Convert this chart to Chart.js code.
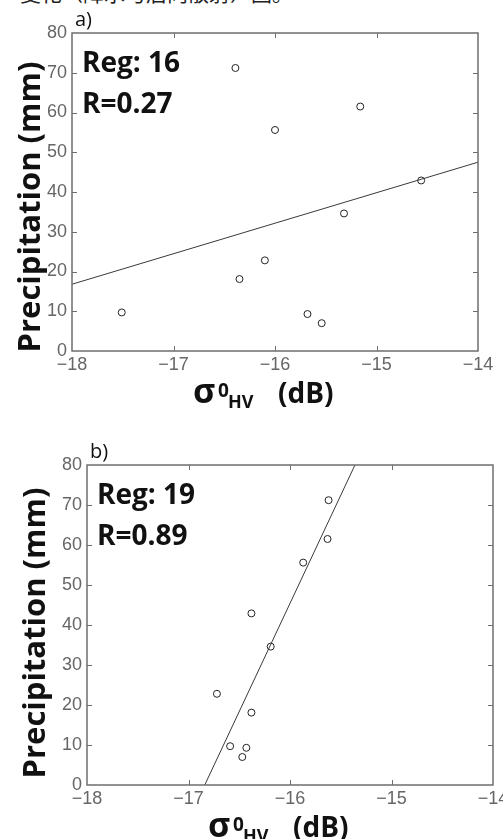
<!DOCTYPE html>
<html>
<head>
<meta charset="utf-8">
<script src="https://cdn.jsdelivr.net/npm/chart.js@4/dist/chart.umd.min.js"></script>
<style>
    html, body {
        margin: 0;
        padding: 0;
        background: #ffffff;
        width: 503px;
        height: 839px;
        overflow: hidden;
    }

    #cabecalho {
        position: absolute;
        left: 20px;
        top: -18px;
        font: 21px/21px "Noto Sans CJK SC", sans-serif;
        color: #222222;
        white-space: nowrap;
    }

    canvas {
        position: absolute;
        left: 0;
    }

    #graficoA { top: 0; }
    #graficoB { top: 420px; }
</style>
</head>
<body>

<div id="cabecalho">变化（降水与后向散射）图。</div>

<canvas id="graficoA" width="503" height="420"></canvas>
<canvas id="graficoB" width="503" height="419"></canvas>

<script>

// precipitation of the stations (same for both panels)
const precipitation = [71.2, 61.5, 55.6, 42.9, 34.6, 22.8, 18.1, 9.7, 9.3, 7.0];

// sigma0 HV (dB) of each station
const sigmaReg16 = [-16.39, -15.16, -16.00, -14.56, -15.32, -16.10, -16.35, -17.51, -15.68, -15.54];
const sigmaReg19 = [-15.62, -15.63, -15.87, -16.38, -16.19, -16.72, -16.38, -16.59, -16.43, -16.47];

// regression line end points
const fitReg16X = [-18, -14];
const fitReg16Y = [16.8, 47.5];
const fitReg19X = [-16.84, -15.36];
const fitReg19Y = [0, 80];

// axis ticks
const xTicks = [-18, -17, -16, -15, -14];
const yTicks = [0, 10, 20, 30, 40, 50, 60, 70, 80];

const fonteBold = '"Open Sans", "DejaVu Sans", sans-serif';

document.addEventListener('DOMContentLoaded', () => {

    const moldura = {

        id: 'moldura',

        afterDraw(chart, args, opts) {

            const ctx = chart.ctx;
            const area = chart.chartArea;
            const sx = chart.scales.x;
            const sy = chart.scales.y;

            ctx.save();

            // box
            ctx.strokeStyle = '#6e6e6e';
            ctx.lineWidth = 1.5;
            ctx.strokeRect(
                area.left,
                area.top,
                area.right - area.left,
                area.bottom - area.top
            );

            // inward ticks on every side
            ctx.lineWidth = 1;
            ctx.beginPath();

            xTicks.slice(1, -1).forEach(v => {
                const px = Math.round(sx.getPixelForValue(v)) + 0.5;
                ctx.moveTo(px, area.bottom);
                ctx.lineTo(px, area.bottom - 5);
                ctx.moveTo(px, area.top);
                ctx.lineTo(px, area.top + 5);
            });

            yTicks.slice(1, -1).forEach(v => {
                const py = Math.round(sy.getPixelForValue(v)) + 0.5;
                ctx.moveTo(area.left, py);
                ctx.lineTo(area.left + 5, py);
                ctx.moveTo(area.right, py);
                ctx.lineTo(area.right - 5, py);
            });

            ctx.stroke();

            // panel letter
            ctx.fillStyle = '#111111';
            ctx.font = '20px "Open Sans", sans-serif';
            ctx.textAlign = 'left';
            ctx.textBaseline = 'alphabetic';
            ctx.fillText(opts.letra, area.left + 3, area.top - 7);

            // Reg / R text
            ctx.font = 'bold 28px ' + fonteBold;
            ctx.fillText(opts.reg, area.left + 10, area.top + 39);
            ctx.fillText(opts.r, area.left + 10, area.top + 80);

            // y title
            ctx.save();
            ctx.translate(
                opts.yTituloX,
                (area.top + area.bottom) / 2 + opts.yTituloDy
            );
            ctx.rotate(-Math.PI / 2);
            ctx.textAlign = 'center';
            ctx.font = 'bold 31px ' + fonteBold;
            ctx.fillText('Precipitation (mm)', 0, 0);
            ctx.restore();

            // x title: sigma0_HV (dB)
            const base = area.bottom + 52;
            const x0 = area.left + 121;

            ctx.textAlign = 'left';
            ctx.font = 'bold 34px ' + fonteBold;
            ctx.fillText('σ', x0, base);

            ctx.font = 'bold 19px ' + fonteBold;
            ctx.fillText('0', x0 + 25, base - 6);

            ctx.font = 'bold 18px ' + fonteBold;
            ctx.fillText('HV', x0 + 35, base + 5);

            ctx.font = 'bold 28px ' + fonteBold;
            ctx.fillText('(dB)', x0 + 85, base);

            ctx.restore();
        }
    };

    function pontos(xs, ys) {
        return xs.map((x, i) => ({ x: x, y: ys[i] }));
    }

    function formatarTick(v) {
        return v < 0 ? '\u2212' + Math.abs(v) : String(v);
    }

    function construirGrafico(
        id,
        sigma,
        fitX,
        fitY,
        area,
        textos
    ) {

        const canvas = document.getElementById(id);

        const larguraY = area.left;
        const alturaX = 30;

        return new Chart(canvas, {

            type: 'scatter',

            data: {
                datasets: [
                    {
                        label: 'fit',
                        data: pontos(fitX, fitY),
                        showLine: true,
                        borderColor: '#3a3a3a',
                        borderWidth: 1,
                        pointRadius: 0,
                        fill: false
                    },
                    {
                        label: 'stations',
                        data: pontos(sigma, precipitation),
                        pointStyle: 'circle',
                        pointRadius: 3.5,
                        borderColor: '#222222',
                        backgroundColor: 'rgba(0,0,0,0)',
                        borderWidth: 1
                    }
                ]
            },

            options: {
                responsive: false,
                animation: false,
                devicePixelRatio: 1,

                layout: {
                    padding: {
                        left: 0,
                        top: area.top,
                        right: canvas.width - area.right,
                        bottom: canvas.height - area.bottom - alturaX
                    }
                },

                plugins: {
                    legend: { display: false },
                    tooltip: { enabled: false },
                    moldura: textos
                },

                scales: {

                    x: {
                        type: 'linear',
                        min: -18,
                        max: -14,
                        afterBuildTicks: s => {
                            s.ticks = xTicks.map(v => ({ value: v }));
                        },
                        afterFit: s => {
                            s.height = alturaX;
                            s.paddingLeft = 0;
                            s.paddingRight = 0;
                        },
                        grid: {
                            display: false,
                            drawTicks: false
                        },
                        border: { display: false },
                        ticks: {
                            autoSkip: false,
                            maxRotation: 0,
                            padding: 3,
                            color: '#666666',
                            font: {
                                family: '"Liberation Sans", Arial, sans-serif',
                                size: 18
                            },
                            callback: formatarTick
                        }
                    },

                    y: {
                        type: 'linear',
                        min: 0,
                        max: 80,
                        afterBuildTicks: s => {
                            s.ticks = yTicks.map(v => ({ value: v }));
                        },
                        afterFit: s => {
                            s.width = larguraY;
                            s.paddingTop = 0;
                            s.paddingBottom = 0;
                        },
                        grid: {
                            display: false,
                            drawTicks: false
                        },
                        border: { display: false },
                        ticks: {
                            autoSkip: false,
                            padding: 5,
                            color: '#666666',
                            font: {
                                family: '"Liberation Sans", Arial, sans-serif',
                                size: 18
                            },
                            callback: formatarTick
                        }
                    }
                }
            },

            plugins: [moldura]
        });
    }

    construirGrafico(
        'graficoA',
        sigmaReg16,
        fitReg16X,
        fitReg16Y,
        { left: 72, right: 478, top: 33, bottom: 351 },
        { letra: 'a)', reg: 'Reg: 16', r: 'R=0.27', yTituloX: 40, yTituloDy: 15 }
    );

    construirGrafico(
        'graficoB',
        sigmaReg19,
        fitReg19X,
        fitReg19Y,
        { left: 87, right: 493, top: 45, bottom: 365 },
        { letra: 'b)', reg: 'Reg: 19', r: 'R=0.89', yTituloX: 45, yTituloDy: 8 }
    );
});
</script>
</body>
</html>
